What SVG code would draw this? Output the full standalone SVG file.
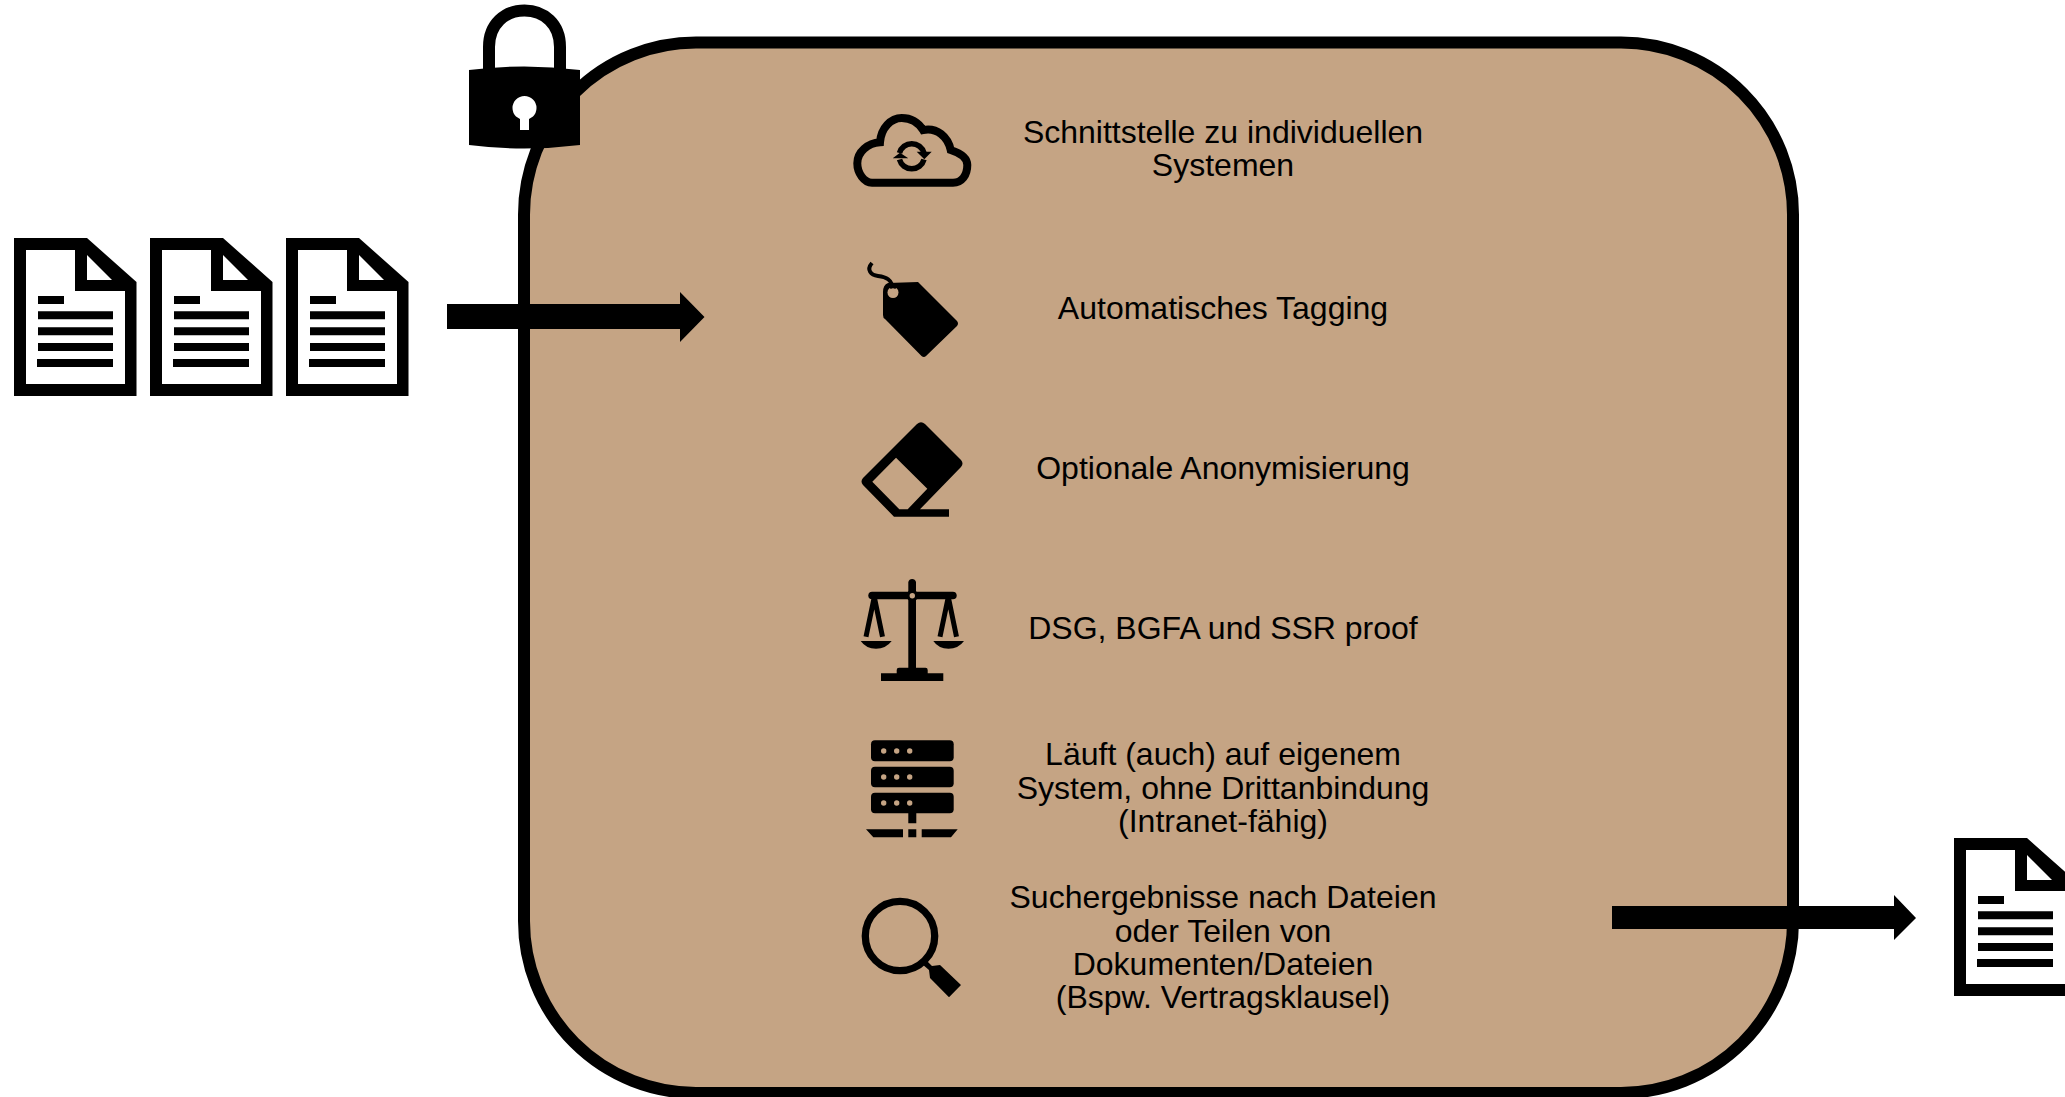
<svg xmlns="http://www.w3.org/2000/svg" xmlns:xlink="http://www.w3.org/1999/xlink" width="2065" height="1097" viewBox="0 0 2065 1097">
<style>
text{font-family:"Liberation Sans",Arial,sans-serif;font-size:32px;fill:#000;text-anchor:middle}
.k{fill:#000}
.t{fill:#C5A484}
.l{fill:none;stroke:#000}
</style>
<defs>
<g id="doc">
<path class="k" fill-rule="evenodd" d="M14 238H87L136.500 282V396H14ZM26 250V384H125V291H75V250ZM87 255V280H112Z"/>
<path class="k" d="M38 296H64V304H38ZM38 311.300H113V319.300H38ZM38 327.300H113V335.300H38ZM38 343H113V351H38ZM37 359H113V367H37Z"/>
</g>
</defs>
<rect width="2065" height="1097" fill="#fff"/>
<g id="panel"><rect x="524" y="42.600" width="1269" height="1050.400" rx="172" ry="172" fill="#C5A484" stroke="#000" stroke-width="12"/></g>
<g id="lock">
<path class="l" stroke-width="12" d="M489 72V47C489 24 505 10.500 524.500 10.500C544 10.500 560 24 560 47V72"/>
<path class="k" fill-rule="evenodd" d="M469 70Q524 63 580 70V145Q524 152 469 145ZM516 116.500A12 12 0 1 1 533 116.500L529 119V130H520V119Z"/>
</g>
<g id="doc-1"><use xlink:href="#doc" href="#doc"/></g>
<g id="doc-2"><use xlink:href="#doc" href="#doc" x="136"/></g>
<g id="doc-3"><use xlink:href="#doc" href="#doc" x="272"/></g>
<g id="doc-4"><use xlink:href="#doc" href="#doc" x="1940" y="600"/></g>
<g id="connectors">
<path class="k" d="M447 304H680V292L704.500 317L680 342V329H447Z"/>
<path class="k" d="M1612 906H1894V895L1916 918L1894 940V929H1612Z"/>
</g>
<g id="item-cloud">
<path class="l" stroke-width="8" d="M872 182.700C864 182.700 857.300 173 857.300 163.300C857.300 152 868 143 880 142.300C881 128 891 118 901.700 118C910 118 918 122 923 130C937 127 948 137 950.700 150C960 153 967.300 157 967.300 165C967.300 175 962 182.700 953 182.700Z"/>
<path class="l" stroke-width="5.500" d="M899.500 153A12.700 12.700 0 0 1 924 153M924 159.500A12.700 12.700 0 0 1 899.500 159.500"/>
<path class="k" d="M916.700 151.700H931.700L924.300 159.300ZM892.700 158.300H908.300L900 152.700Z"/>
<text x="1223" y="143">Schnittstelle zu individuellen</text>
<text x="1223" y="175.700">Systemen</text>
</g>
<g id="item-tag">
<path class="l" stroke-width="4" d="M893 290C892 279 886 277 878 276C871 275 866 270 872 263"/>
<path class="k" d="M883 292Q883 285 888 283L918 282L957 321Q959 323.500 957 326L926 356Q924 358 921.500 356L885 319Q883 318 883 315Z"/>
<circle class="t" cx="893" cy="292.500" r="5.500"/>
<path class="l" stroke-width="2.500" d="M890 288Q893 286 896 288"/>
<text x="1223" y="319">Automatisches Tagging</text>
</g>
<g id="item-eraser">
<path class="k" fill-rule="evenodd" d="M917 424Q921 420.500 925 424L961 460Q964 463.500 961 467L920 509.300H949V516.700H894L863 485Q860 481.700 863 478ZM896 457.700L927.300 488.700L907.700 509.300H899.300L872.300 481.700Z"/>
<text x="1223" y="479">Optionale Anonymisierung</text>
</g>
<g id="item-scales">
<path class="k" d="M908.300 582A4 4 0 0 1 916 582V668H908.300Z"/>
<rect class="k" x="868.300" y="591.700" width="88.400" height="7.600" rx="3.800"/>
<circle class="k" cx="912.300" cy="595.700" r="5.800"/>
<circle class="t" cx="912.300" cy="595.700" r="2.700"/>
<path class="l" stroke-width="5" d="M866 636.700L874.300 597L882.500 636.700M940 636.700L948.300 597L956.500 636.700"/>
<path class="k" d="M860.700 641H891.700Q886 648.700 876 648.700Q866 648.700 860.700 641ZM933.300 641H964Q958.500 648.700 948.500 648.700Q938.500 648.700 933.300 641ZM896.700 673.300V670Q896.700 667.700 899 667.700H925.500Q927.700 667.700 927.700 670V673.300H943.300V681H881V673.300Z"/>
<text x="1223" y="639">DSG, BGFA und SSR proof</text>
</g>
<g id="item-server">
<rect class="k" x="871" y="740.300" width="82.700" height="21" rx="4"/>
<rect class="k" x="871" y="766.700" width="82.700" height="20.600" rx="4"/>
<rect class="k" x="871" y="792.700" width="82.700" height="20.600" rx="4"/>
<g class="t"><circle cx="883.700" cy="751" r="2.700"/><circle cx="896.700" cy="751" r="2.700"/><circle cx="909.700" cy="751" r="2.700"/><circle cx="883.700" cy="777" r="2.700"/><circle cx="896.700" cy="777" r="2.700"/><circle cx="909.700" cy="777" r="2.700"/><circle cx="883.700" cy="803" r="2.700"/><circle cx="896.700" cy="803" r="2.700"/><circle cx="909.700" cy="803" r="2.700"/></g>
<path class="k" d="M908.300 813H916.300V823.300H908.300ZM908.300 829.300H916.300V837.300H908.300ZM866 829.300H903V837.300H873.300ZM921.700 829.300H957.700L951 837.300H921.700Z"/>
<text x="1223" y="765">Läuft (auch) auf eigenem</text>
<text x="1223" y="799">System, ohne Drittanbindung</text>
<text x="1223" y="832">(Intranet-fähig)</text>
</g>
<g id="item-search">
<circle class="l" cx="900" cy="936" r="34.700" stroke-width="7.300"/>
<path class="k" d="M926 960L932 966L940 965L961 985L949 997.300L930 978L929 970L922 964Z"/>
<text x="1223" y="908">Suchergebnisse nach Dateien</text>
<text x="1223" y="942">oder Teilen von</text>
<text x="1223" y="975">Dokumenten/Dateien</text>
<text x="1223" y="1008">(Bspw. Vertragsklausel)</text>
</g>
</svg>
